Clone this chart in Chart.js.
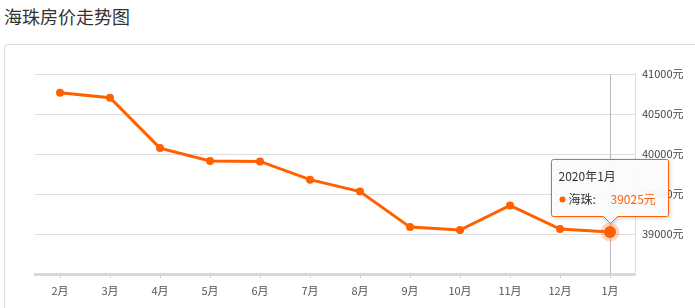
<!DOCTYPE html>
<html>
<head>
<meta charset="utf-8">
<script src="https://cdn.jsdelivr.net/npm/chart.js@4.4.1/dist/chart.umd.min.js"></script>
<style>
  html, body { margin: 0; padding: 0; background: #fff; }
  body { width: 695px; height: 308px; position: relative; overflow: hidden;
         font-family: "Noto Sans CJK SC", "Microsoft YaHei", sans-serif; }
  #title { position: absolute; left: 4px; top: 3px; font-size: 18px; color: #333; }
  #card { position: absolute; left: 4px; top: 44px; width: 720px; height: 300px;
          border: 1px solid #ddd; border-radius: 4px; }
  #wrap { position: absolute; left: 0; top: 0; width: 695px; height: 308px; }
</style>
</head>
<body>
<div id="title">海珠房价走势图</div>
<div id="card"></div>
<div id="wrap"><canvas id="priceChart" width="695" height="308"></canvas></div>
<script>
const months = ["2月", "3月", "4月", "5月", "6月", "7月", "8月", "9月", "10月", "11月", "12月", "1月"];
const prices = [40765, 40704, 40074, 39913, 39907, 39679, 39530, 39086, 39049, 39357, 39061, 39025];
const yTicks = [39000, 39500, 40000, 40500, 41000];
const seriesName = "海珠";
const activeLabel = "2020年1月";

const orange = "#ff6000";
const font = "\"Noto Sans CJK SC\", \"Microsoft YaHei\", sans-serif";

// crosshair + halo + tooltip on the last month
const tipPlugin = {
  id: "tipPlugin",
  beforeDatasetsDraw(chart) {
    const ctx = chart.ctx;
    const idx = prices.length - 1;
    const pt = chart.getDatasetMeta(0).data[idx];
    const area = chart.chartArea;
    ctx.save();
    ctx.strokeStyle = "#bbb";
    ctx.lineWidth = 1;
    ctx.beginPath();
    ctx.moveTo(Math.round(pt.x) + 0.5, area.top);
    ctx.lineTo(Math.round(pt.x) + 0.5, area.bottom);
    ctx.stroke();
    ctx.restore();
  },
  afterDatasetsDraw(chart) {
    const ctx = chart.ctx;
    const idx = prices.length - 1;
    const pt = chart.getDatasetMeta(0).data[idx];
    ctx.save();
    // halo
    ctx.fillStyle = "rgba(255,96,0,0.25)";
    ctx.beginPath();
    ctx.arc(pt.x, pt.y, 9.5, 0, Math.PI * 2);
    ctx.fill();
    ctx.fillStyle = orange;
    ctx.beginPath();
    ctx.arc(pt.x, pt.y, 6, 0, Math.PI * 2);
    ctx.fill();

    // tooltip box
    const w = 117, h = 57;
    const bx = Math.round(pt.x - 59) + 0.5;
    const by = Math.round(pt.y - 16 - h) + 0.5;
    const cx = Math.round(pt.x) + 0.5;
    ctx.shadowColor = "rgba(0,0,0,0.25)";
    ctx.shadowBlur = 4;
    ctx.shadowOffsetX = 1;
    ctx.shadowOffsetY = 1;
    ctx.fillStyle = "rgba(255,255,255,0.92)";
    ctx.strokeStyle = orange;
    ctx.lineWidth = 1;
    ctx.beginPath();
    ctx.moveTo(bx + 2, by);
    ctx.lineTo(bx + w - 2, by);
    ctx.quadraticCurveTo(bx + w, by, bx + w, by + 2);
    ctx.lineTo(bx + w, by + h - 2);
    ctx.quadraticCurveTo(bx + w, by + h, bx + w - 2, by + h);
    ctx.lineTo(cx + 7, by + h);
    ctx.lineTo(cx, by + h + 7);
    ctx.lineTo(cx - 7, by + h);
    ctx.lineTo(bx + 2, by + h);
    ctx.quadraticCurveTo(bx, by + h, bx, by + h - 2);
    ctx.lineTo(bx, by + 2);
    ctx.quadraticCurveTo(bx, by, bx + 2, by);
    ctx.closePath();
    ctx.fill();
    ctx.shadowColor = "transparent";
    ctx.stroke();

    ctx.textBaseline = "middle";
    ctx.textAlign = "left";
    ctx.font = "12px " + font;
    ctx.fillStyle = "#333";
    ctx.fillText(activeLabel, bx + 7, by + 17);
    ctx.fillStyle = orange;
    ctx.beginPath();
    ctx.arc(bx + 11, by + 40, 3, 0, Math.PI * 2);
    ctx.fill();
    ctx.fillStyle = "#333";
    ctx.fillText(seriesName + ":", bx + 17, by + 40);
    ctx.fillStyle = orange;
    ctx.fillText(prices[idx] + "元", bx + 59, by + 40);
    ctx.restore();
  }
};

new Chart(document.getElementById("priceChart"), {
  type: "line",
  data: {
    labels: months,
    datasets: [{
      label: seriesName,
      data: prices,
      borderColor: orange,
      backgroundColor: orange,
      borderWidth: 3,
      pointRadius: 4,
      pointBackgroundColor: orange,
      pointBorderWidth: 0,
      tension: 0
    }]
  },
  options: {
    responsive: false,
    animation: false,
    layout: { padding: { left: 35, top: 74, right: 0, bottom: 0 } },
    plugins: { legend: { display: false }, tooltip: { enabled: false } },
    scales: {
      x: {
        offset: true,
        grid: { drawOnChartArea: false, drawTicks: true, tickLength: 4, color: "#ccc" },
        border: { color: "#d8d8d8", width: 3 },
        ticks: { color: "#555", font: { family: font, size: 11 }, padding: 6, maxRotation: 0, autoSkip: false },
        afterFit(scale) { scale.height = 34; }
      },
      y: {
        position: "right",
        min: 38500,
        max: 41000,
        grid: { color: "#ddd", drawTicks: false },
        border: { display: true, color: "#ddd" },
        afterBuildTicks(scale) { scale.ticks = [38500].concat(yTicks).map(v => ({ value: v })); },
        ticks: {
          color: "#444",
          padding: 7,
          font: { family: font, size: 11 },
          callback: v => (yTicks.includes(v) ? v + "元" : "")
        },
        afterFit(scale) { scale.width = 60; }
      }
    }
  },
  plugins: [tipPlugin]
});
</script>
</body>
</html>
